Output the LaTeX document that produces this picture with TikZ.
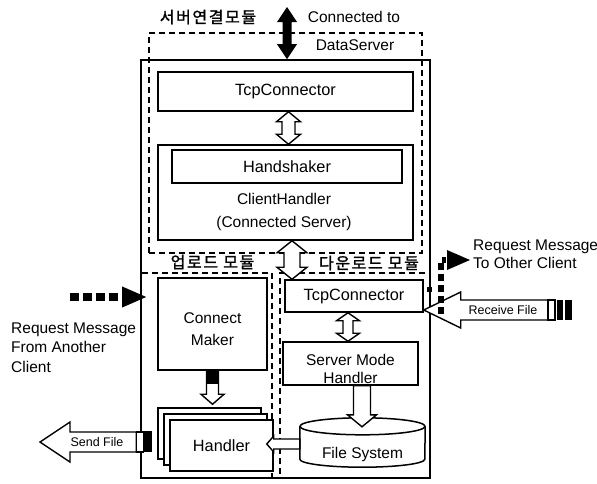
\documentclass[tikz,border=0pt]{standalone}
\usepackage{fontspec}
\setmainfont{Liberation Sans}
\newfontfamily\kor[LetterSpace=10, FakeBold=1.5]{Noto Sans CJK KR}
\usetikzlibrary{calc}

\newcommand\mainsz{\fontsize{15.5}{18}\selectfont}
\newcommand\boxsz{\fontsize{16.3}{18}\selectfont}
\newcommand\smallsz{\fontsize{12.5}{14}\selectfont}
\newcommand\korsz{\kor\fontsize{16}{18}\selectfont}

% vertical double-headed block arrow: style, top point, bottom point, head half width, shaft half width, head length
\newcommand\dblblock[6]{%
  \path[#1] let \p1=#2, \p2=#3 in
    (\x1,\y1) -- (\x1+#4,\y1-#6) -- (\x1+#5,\y1-#6) -- (\x1+#5,\y2+#6)
    -- (\x1+#4,\y2+#6) -- (\x1,\y2) -- (\x1-#4,\y2+#6) -- (\x1-#5,\y2+#6)
    -- (\x1-#5,\y1-#6) -- (\x1-#4,\y1-#6) -- cycle;}
% downward block arrow: style, tail, tip, head half width, shaft half width, head length
\newcommand\downblock[6]{%
  \path[#1] let \p1=#2, \p2=#3 in
    (\x1-#5,\y1) -- (\x1+#5,\y1) -- (\x1+#5,\y2+#6) -- (\x1+#4,\y2+#6)
    -- (\x1,\y2) -- (\x1-#4,\y2+#6) -- (\x1-#5,\y2+#6) -- cycle;}
% leftward block arrow: style, tail (right end), tip, head half height, shaft half height, head length
\newcommand\leftblock[6]{%
  \path[#1] let \p1=#2, \p2=#3 in
    (\x1,\y1+#5) -- (\x2+#6,\y1+#5) -- (\x2+#6,\y1+#4) -- (\x2,\y1)
    -- (\x2+#6,\y1-#4) -- (\x2+#6,\y1-#5) -- (\x1,\y1-#5) -- cycle;}

\begin{document}
\begin{tikzpicture}[x=1pt,y=-1pt,
  box/.style={draw, line width=1.5pt, fill=white, inner sep=0pt, font=\boxsz, align=center},
  dbox/.style={draw, line width=1.5pt, dash pattern=on 6pt off 4pt, inner sep=0pt},
  outerbox/.style={draw, line width=1.6pt, inner sep=0pt},
  hollow/.style={draw, line width=1.4pt, fill=white, line join=miter},
  solidarrow/.style={fill=black},
  dotsL/.style={line width=8pt, dash pattern=on 9pt off 4pt},
  dotsR/.style={line width=6.5pt, dash pattern=on 7pt off 4pt},
  lbl/.style={inner sep=0pt, font=\mainsz, align=center},
  small/.style={inner sep=0pt, font=\smallsz},
  korlbl/.style={inner sep=0pt, font=\korsz}]

\useasboundingbox (0,0) rectangle (597,483);
\fill[white] (0,0) rectangle (597,483);

% module frames
\node[dbox, minimum width=273, minimum height=220] (srv) at (285.5,143) {};
\node[dbox, minimum width=131, minimum height=205] (up) at (206.5,375.5) {};
\node[dbox, minimum width=150, minimum height=205] (dn) at (355,375.5) {};
\node[outerbox, minimum width=289, minimum height=418] (outer) at (285.5,269) {};

% server connection part
\node[box, minimum width=255, minimum height=39] (tcpA) at (285.5,91.5) {TcpConnector};
\node[box, minimum width=255, minimum height=95] (ch) at (285.5,192.5) {};
\node[box, minimum width=230, minimum height=33] (hs) at (287,166.5) {Handshaker};
\node[lbl, font=\fontsize{15.5}{23}\selectfont] (chl) at (284,211.5) {ClientHandler\\(Connected Server)};

% download part
\node[box, minimum width=138, minimum height=32] (tcpB) at (354,296) {TcpConnector};
\node[box, minimum width=135, minimum height=43] (smh) at (350.5,363.5) {};
\node[lbl] (smhl) at (350.5,369) {Server Mode\\Handler};
\node[inner sep=0pt, minimum width=125, minimum height=49] (fs) at (362.5,442.5) {};
\draw[line width=1.5pt, fill=white] ($(fs.north west)+(0,8.5)$) -- ($(fs.south west)+(0,-8)$)
  arc[start angle=180, end angle=360, x radius=62.5pt, y radius=8pt] -- ($(fs.north east)+(0,8.5)$);
\draw[line width=1.5pt, fill=white] ($(fs.north)+(0,8.5)$) ellipse[x radius=62.5pt, y radius=8.5pt];
\node[lbl] (fsl) at (362.5,454) {File System};

% upload part
\node[box, minimum width=109, minimum height=92] (cm) at (212.5,324) {};
\node[lbl, font=\fontsize{15.5}{22}\selectfont] (cml) at (212.5,329) {Connect\\Maker};
\node[box, minimum width=103, minimum height=51] (hB) at (209.5,433.5) {};
\node[box, minimum width=103, minimum height=51] (hM) at (215.5,439.5) {};
\node[box, minimum width=103, minimum height=51] (hF) at (221.5,445.5) {Handler};

% link to the data server
\coordinate (dsTop) at (287,7);
\dblblock{solidarrow}{(dsTop)}{(dsTop |- outer.north)}{10pt}{4.5pt}{15pt}

% internal block arrows
\coordinate (a1) at ($(tcpA.south)+(3,0)$);
\dblblock{hollow}{(a1)}{(ch.north)}{12pt}{6.5pt}{10pt}
\coordinate (a2) at ($(ch.south)+(6.5,0)$);
\dblblock{hollow}{(a2)}{(tcpB.north)}{15pt}{8pt}{12pt}
\coordinate (a3) at ($(tcpB.south)+(-6,0)$);
\dblblock{hollow}{(a3)}{(smh.north)}{11.5pt}{5pt}{8pt}
\coordinate (a4) at ($(smh.south)+(11.5,0)$);
\coordinate (a4t) at ($(fs.north)+(0,9)$);
\downblock{hollow}{(a4)}{(a4t)}{14.5pt}{8.5pt}{12pt}
\coordinate (a5t) at ($(hB.north)+(0,-3)$);
\downblock{hollow}{(cm.south)}{(a5t)}{11.5pt}{6pt}{10pt}
\fill ($(cm.south)+(-6,0)$) rectangle ($(cm.south)+(6,13)$);
\coordinate (a6) at ($(fs.west)+(0,1.5)$);
\coordinate (a6t) at ($(hF.east)+(-7,0)$);
\leftblock{hollow}{(a6)}{(a6t)}{8pt}{5pt}{7pt}

% send file
\coordinate (sfTip) at (40,442);
\coordinate (sfTail) at ($(hB.west)+(-21,8.5)$);
\leftblock{hollow}{(sfTail)}{(sfTip)}{20pt}{10pt}{30pt}
\node[small] (sfl) at (97,442) {Send File};
\draw[line width=1.2pt, fill=white] ($(sfTail)+(0,-10)$) rectangle ($(sfTail)+(7,10)$);
\fill ($(sfTail)+(7,-11)$) rectangle ($(sfTail)+(16,10)$);

% receive file
\coordinate (rfTail) at (548,310);
\coordinate (rfTip) at ($(tcpB.east)+(0,12)$);
\leftblock{hollow}{(rfTail)}{(rfTip)}{18pt}{10pt}{37pt}
\node[small] (rfl) at (503,310) {Receive File};
\draw[line width=1.2pt, fill=white] ($(rfTail)+(0,-10)$) rectangle ($(rfTail)+(7,10)$);
\fill ($(rfTail)+(9,-10)$) rectangle ($(rfTail)+(15,10)$);
\fill ($(rfTail)+(17,-10)$) rectangle ($(rfTail)+(24,10)$);

% request messages
\coordinate (rqL) at (70,297);
\draw[dotsL] (rqL) -- ($(rqL -| outer.west)+(-22,0)$);
\fill let \p1=(rqL -| outer.west) in (\x1+6pt,\y1) -- (\x1-18pt,\y1+10.5pt) -- (\x1-18pt,\y1-10.5pt) -- cycle;

\coordinate (rqR) at (470,260);
\coordinate (rs) at ($(tcpB.east)+(17,18)$);
\draw[dotsR] (rs) -- (rs |- rqR) -- ($(rqR)+(-24,0)$);
\fill (rqR) -- ++(-23,-10) -- ++(0,20) -- cycle;
\fill ($(tcpB.east)+(3,-9)$) rectangle ++(5,5);

% labels
\node[korlbl] (kSrv) at (208,17) {서버연결모듈};
\node[korlbl] (kUp) at (212.5,262) {업로드 모듈};
\node[korlbl] (kDn) at (369,263) {다운로드 모듈};
\node[lbl] (conn) at (354,17) {Connected to};
\node[lbl] (dsrv) at (355,45) {DataServer};
\node[lbl, align=left, anchor=west] (rqRl) at (473,254) {Request Message\\To Other Client};
\node[lbl, align=left, anchor=west, font=\fontsize{15.5}{19.5}\selectfont] (rqLl) at (11,347.5) {Request Message\\From Another\\Client};
\end{tikzpicture}
\end{document}
